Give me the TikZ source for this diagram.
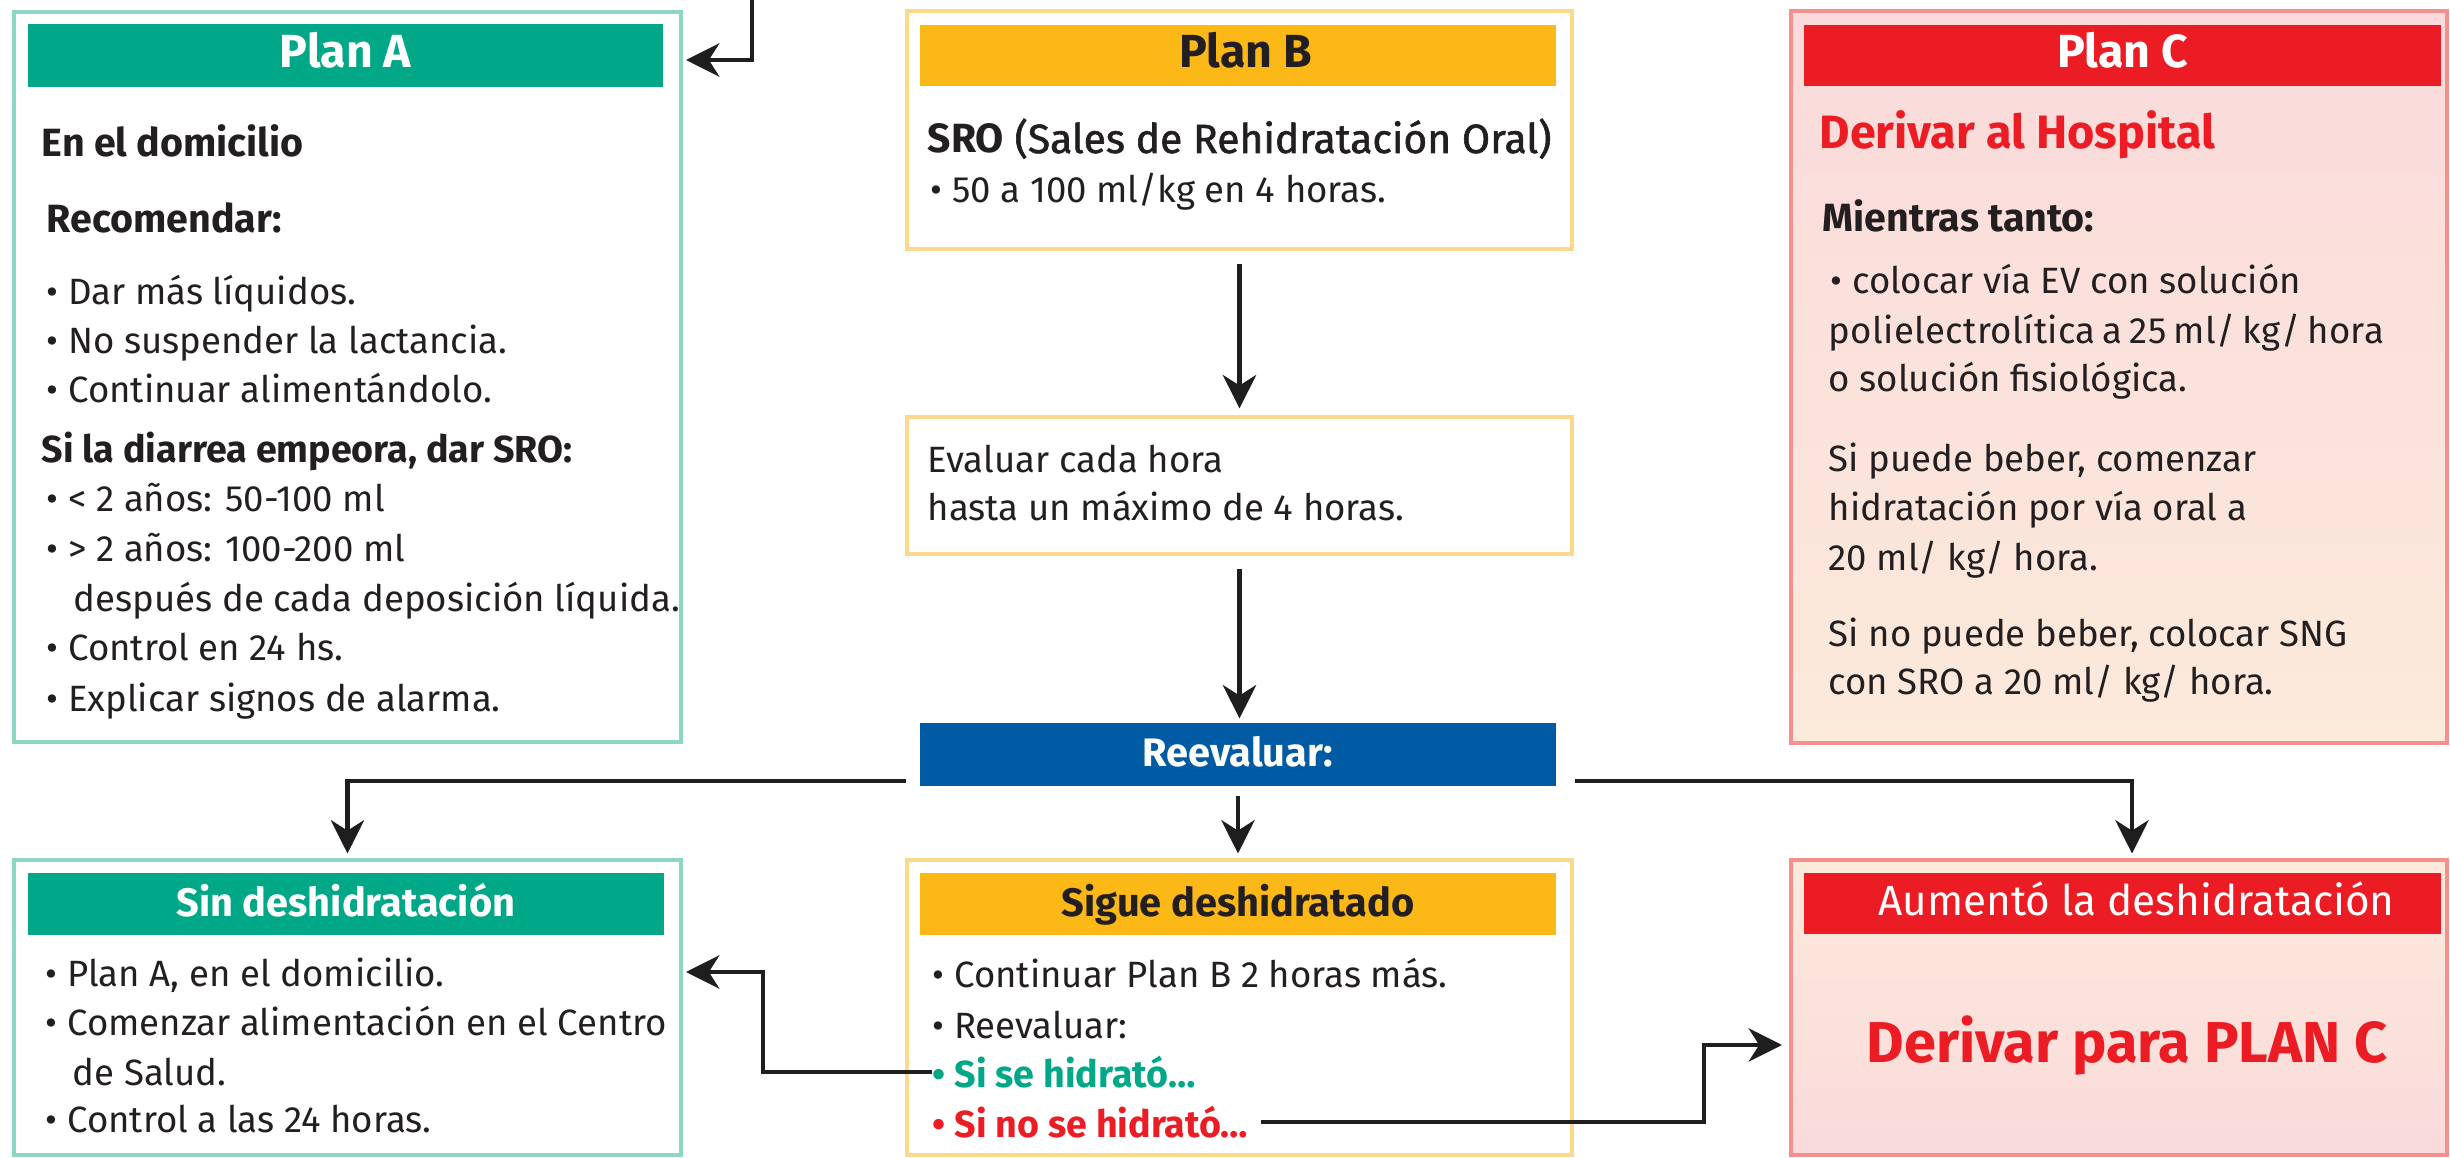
\documentclass[tikz,border=0pt]{standalone}
\usepackage{fontspec}
\setmainfont{Fira Sans}
\newfontfamily\semibf{Fira Sans}[FakeBold=1.4]
\usetikzlibrary{arrows.meta,fit,calc}
\definecolor{grn}{HTML}{00A887}
\definecolor{grnb}{HTML}{8ED6C4}
\definecolor{yel}{HTML}{FBB817}
\definecolor{yelb}{HTML}{FDD88A}
\definecolor{rd}{HTML}{EC1C24}
\definecolor{rdb}{HTML}{F3908E}
\definecolor{blu}{HTML}{005BA4}
\definecolor{pinkt}{HTML}{FADADB}
\definecolor{peach}{HTML}{FCEADB}
\definecolor{txt}{HTML}{231F20}
\definecolor{lnc}{HTML}{1E1E1E}
\begin{document}
\begin{tikzpicture}[x=0.01cm,y=-0.01cm,
  boxG/.style={draw=grnb,line width=0.9pt,fill=white,inner sep=0},
  boxY/.style={draw=yelb,line width=0.9pt,fill=white,inner sep=0},
  boxR/.style={draw=rdb,line width=0.9pt,inner sep=0},
  bar/.style={inner sep=0},
  hdrtext/.style={inner sep=0,text height=0.69em,text depth=0pt,anchor=center,font=\bfseries\fontsize{13.2pt}{14pt}\selectfont},
  subtext/.style={hdrtext,font=\bfseries\fontsize{11.3pt}{12pt}\selectfont},
  body/.style={inner sep=0,anchor=base west,text=txt,font=\fontsize{10.4pt}{12pt}\selectfont},
  bodyb/.style={body,font=\bfseries\fontsize{10.7pt}{12pt}\selectfont},
  headb/.style={body,font=\bfseries\fontsize{11.2pt}{12pt}\selectfont},
  conn/.style={draw=lnc,line width=1.2pt},
  arr/.style={conn,-{Stealth[length=9.5pt,width=9.5pt,inset=3pt]}}]
\useasboundingbox (0,0) rectangle (2450,1158);
% boxes
\node[boxG,fit={(14,12) (681,742)}] (planA) {};
\node[boxY,fit={(907,11) (1572,249)}] (planB) {};
\node[boxY,fit={(907,417) (1572,554)}] (evalB) {};
\node[boxR,top color=pinkt,bottom color=peach,fit={(1791,11) (2447,743)}] (planC) {};
\node[boxG,fit={(14,860) (681,1155)}] (sinB) {};
\node[boxY,fit={(907,860) (1572,1155)}] (sigB) {};
\node[boxR,top color=peach,bottom color=pinkt,fit={(1791,860) (2447,1155)}] (aumB) {};
% header bars
\node[bar,fill=grn,fit={(28,24) (663,87)}] (hA) {};
\node[bar,fill=yel,fit={(920,25) (1556,86)}] (hB) {};
\node[bar,fill=rd,fit={(1804,25) (2441,86)}] (hC) {};
\node[bar,fill=blu,fit={(920,723) (1556,786)}] (reev) {};
\node[bar,fill=grn,fit={(28,873) (664,935)}] (hSin) {};
\node[bar,fill=yel,fit={(920,873) (1556,935)}] (hSig) {};
\node[bar,fill=rd,fit={(1804,873) (2441,934)}] (hAum) {};
% header texts
\node[hdrtext,text=white] (tA) at (hA.center) {Plan A};
\node[hdrtext,text=txt] (tB) at ($(hB.center)+(8,0)$) {Plan B};
\node[hdrtext,text=white] (tC) at (hC.center) {Plan C};
\node[subtext,text=white] (tR) at (reev.center) {Reevaluar:};
\node[subtext,text=white] (tSin) at (hSin.center) {Sin deshidratación};
\node[subtext,text=txt] (tSig) at (hSig.center) {Sigue deshidratado};
\node[hdrtext,text=white,font=\fontsize{12pt}{13pt}\selectfont] (tAum) at ($(hAum.center)+(14,0)$) {Aumentó la deshidratación};
% Plan A text
\node[headb] (a1) at (41,157) {En el domicilio};
\node[headb] (a2) at (46,233) {Recomendar:};
\node[body] (a3) at (46,305) {• Dar más líquidos.};
\node[body] (a4) at (46,354) {• No suspender la lactancia.};
\node[body] (a5) at (46,403) {• Continuar alimentándolo.};
\node[bodyb] (a6) at (41,463) {Si la diarrea empeora, dar SRO:};
\node[body] (a7) at (46,512) {• < 2 años: 50-100 ml};
\node[body] (a8) at (46,562) {• > 2 años: 100-200 ml};
\node[body] (a9) at (73,612) {después de cada deposición líquida.};
\node[body] (a10) at (46,661) {• Control en 24 hs.};
\node[body] (a11) at (46,712) {• Explicar signos de alarma.};
% Plan B text
\node[body,font=\fontsize{11.6pt}{12pt}\selectfont] (b1) at (927,153) {\textbf{SRO} {\semibf (Sales de Rehidratación Oral)}};
\node[body] (b2) at (930,203) {• 50 a 100 ml/kg en 4 horas.};
\node[body] (b3) at (927,473) {Evaluar cada hora};
\node[body] (b4) at (927,521) {hasta un máximo de 4 horas.};
% Plan C text
\node[body,text=rd,font=\bfseries\fontsize{13.3pt}{14pt}\selectfont] (c1) at (1819,149) {Derivar al Hospital};
\node[headb] (c2) at (1822,232) {Mientras tanto:};
\node[body] (c3) at (1830,294) {• colocar vía EV con solución};
\node[body] (c4) at (1828,344) {\makebox[5.55cm][s]{\addfontfeature{LetterSpace=1}polielectrolítica a 25 ml/ kg/ hora}};
\node[body] (c5) at (1828,392) {o solución fisiológica.};
\node[body] (c6) at (1828,472) {Si puede beber, comenzar};
\node[body] (c7) at (1828,521) {hidratación por vía oral a};
\node[body] (c8) at (1828,571) {20 ml/ kg/ hora.};
\node[body] (c9) at (1828,647) {Si no puede beber, colocar SNG};
\node[body] (c10) at (1828,695) {con SRO a 20 ml/ kg/ hora.};
% Sin text
\node[body] (s1) at (45,987) {• Plan A, en el domicilio.};
\node[body] (s2) at (45,1035) {• Comenzar alimentación en el Centro};
\node[body] (s3) at (72,1085) {de Salud.};
\node[body] (s4) at (45,1133) {• Control a las 24 horas.};
% Sigue text
\node[body] (g1) at (932,988) {• Continuar Plan B 2 horas más.};
\node[body] (g2) at (932,1038) {• Reevaluar:};
\node[bodyb,text=grn] (hid) at (932,1087) {• Si se hidrató…};
\node[bodyb,text=rd] (nohid) at (932,1137) {• Si no se hidrató…};
% Aumento text
\node[inner sep=0,text=rd,anchor=base,font=\bfseries\fontsize{16.4pt}{18pt}\selectfont] (dpc) at (2127,1063) {Derivar para PLAN C};
% connectors
\coordinate (topIn) at (752,0);
\coordinate (aIn) at (686,60);
\draw[arr] (topIn) |- (aIn);
\draw[arr,shorten <=3.7pt,shorten >=2pt] (planB.south) -- (planB.south |- evalB.north);
\draw[arr,shorten <=3.7pt,shorten >=1.1pt] (evalB.south) -- (evalB.south |- reev.north);
\draw[arr,shorten <=2.6pt,shorten >=1.4pt] (reev.south) -- (reev.south |- sigB.north);
\coordinate (lStart) at (906,781);
\coordinate (rStart) at (1575,781);
\draw[arr,shorten >=1.4pt] (lStart) -| (sinB.north);
\draw[arr,shorten >=1.4pt] (rStart) -| ($(aumB.north)+(13,0)$);
\coordinate (kA) at (763,0);
\coordinate (sinIn) at (686,972);
\draw[arr] (hid.west) -- (hid.west -| kA) |- (sinIn);
\coordinate (kB) at (1704,0);
\coordinate (aumIn) at (1782,1045);
\draw[arr,shorten <=3.5pt] (nohid.east) -- (nohid.east -| kB) |- (aumIn);
\end{tikzpicture}
\end{document}
